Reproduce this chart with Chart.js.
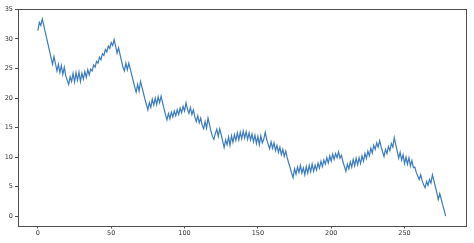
<!DOCTYPE html>
<html>
<head>
<meta charset="utf-8">
<script src="https://cdn.jsdelivr.net/npm/chart.js@4/dist/chart.umd.min.js"></script>
<style>
  html, body { margin: 0; padding: 0; background: #fff; }
  #wrap { width: 474px; height: 243px; position: relative; }
</style>
</head>
<body>
<div id="wrap"><canvas id="c" width="474" height="243"></canvas></div>
<script>
// ---- data ----
const seriesValues = [
  31.4, 32.8, 32.3, 33.4, 32.3, 31.2, 30.1, 29.0, 27.9, 26.8,
  25.7, 27.0, 25.8, 24.6, 25.7, 24.3, 25.5, 24.0, 25.2, 23.8,
  23.0, 22.3, 23.6, 22.8, 24.2, 22.7, 24.3, 23.0, 24.4, 22.8,
  24.2, 23.2, 24.5, 23.5, 24.8, 23.9, 24.9, 24.6, 25.6, 25.2,
  26.2, 25.9, 26.9, 26.5, 27.5, 27.2, 28.2, 27.8, 28.8, 28.4,
  29.4, 28.9, 29.9, 28.8, 27.6, 28.5, 27.4, 26.3, 25.2, 24.6,
  25.9, 24.8, 25.9, 24.9, 23.9, 22.9, 21.9, 21.0, 22.3, 21.2,
  22.8, 21.8, 20.8, 19.8, 18.9, 18.0, 19.2, 18.4, 19.8, 18.8,
  20.0, 18.9, 20.2, 19.2, 20.3, 19.2, 18.2, 17.2, 16.3, 17.4,
  16.5, 17.6, 16.8, 17.8, 17.0, 18.0, 17.2, 18.3, 17.5, 18.6,
  17.8, 19.2, 18.1, 17.4, 18.4, 17.2, 18.0, 16.8, 16.0, 17.0,
  15.8, 16.6, 15.4, 14.8, 16.0, 14.9, 16.6, 15.5, 14.4, 13.5,
  13.0, 14.0, 14.7, 13.5, 14.8, 13.8, 12.7, 11.6, 12.9, 12.1,
  13.4, 12.0, 13.6, 12.5, 13.8, 12.8, 14.1, 12.9, 14.2, 13.1,
  14.4, 13.2, 14.3, 13.0, 14.1, 12.9, 13.9, 12.6, 13.7, 12.3,
  13.5, 12.1, 13.6, 12.4, 13.0, 14.2, 13.0, 12.2, 11.4, 12.6,
  11.5, 12.4, 11.1, 12.0, 10.8, 11.7, 10.4, 11.3, 10.1, 11.0,
  9.9, 9.0, 8.2, 7.3, 6.5, 8.0, 7.1, 8.3, 7.4, 8.6,
  7.3, 8.2, 7.0, 8.4, 7.3, 8.6, 7.5, 8.8, 7.6, 8.6,
  7.8, 9.0, 8.1, 9.3, 8.4, 9.5, 8.8, 9.9, 9.0, 10.2,
  9.3, 10.5, 9.6, 10.6, 9.9, 10.9, 9.8, 10.3, 9.2, 8.4,
  7.6, 8.8, 8.0, 9.2, 8.3, 9.6, 8.5, 9.8, 8.7, 9.9,
  8.9, 10.2, 9.3, 10.6, 9.8, 11.0, 10.2, 11.5, 10.7, 12.0,
  11.3, 12.4, 11.7, 12.8, 11.8, 10.9, 10.1, 11.3, 10.6, 11.8,
  11.1, 12.3, 11.7, 13.3, 12.1, 11.0, 9.8, 10.8, 9.5, 10.4,
  8.9, 10.0, 8.8, 9.9, 8.5, 9.4, 8.2, 8.3, 7.4, 6.8,
  6.2, 7.0, 6.0, 5.3, 4.8, 5.9, 5.2, 6.2, 5.6, 7.0,
  6.0, 5.0, 4.0, 2.8, 3.8, 2.9, 1.9, 1.0, 0.0
];
const categories = seriesValues.map((_, i) => i);   // x positions 0..N-1
const xTickLabels = [0, 50, 100, 150, 200, 250];
const yTickLabels = [0, 5, 10, 15, 20, 25, 30, 35];

// ---- chart ----
const points = categories.map((x, i) => ({ x: x, y: seriesValues[i] }));
const xMinD = Math.min(...categories), xMaxD = Math.max(...categories);
const yMinD = Math.min(...seriesValues), yMaxD = Math.max(...seriesValues);
const xm = (xMaxD - xMinD) * 0.05, ym = (yMaxD - yMinD) * 0.05;

const FONT = { family: 'DejaVu Sans', size: 6.5 };
const AXIS_COLOR = '#4d4d4d';

const frame = {
  id: 'frame',
  afterDraw(chart) {
    const a = chart.chartArea, ctx = chart.ctx;
    ctx.save();
    ctx.strokeStyle = AXIS_COLOR;
    ctx.lineWidth = 1;
    ctx.strokeRect(Math.round(a.left) + 0.5, Math.round(a.top) + 0.5,
                   Math.round(a.right - a.left) - 1, Math.round(a.bottom - a.top));
    ctx.restore();
  }
};

new Chart(document.getElementById('c'), {
  type: 'line',
  data: {
    datasets: [{
      data: points,
      borderColor: '#3b7bbf',
      borderWidth: 1.2,
      pointRadius: 0,
      tension: 0,
      fill: false
    }]
  },
  options: {
    responsive: false,
    animation: false,
    devicePixelRatio: 1,
    layout: { padding: { top: 9, right: 8, left: 0, bottom: 0 } },
    plugins: { legend: { display: false }, tooltip: { enabled: false } },
    scales: {
      x: {
        type: 'linear',
        min: xMinD - xm,
        max: xMaxD + xm,
        afterBuildTicks: s => { s.ticks = xTickLabels.map(v => ({ value: v })); },
        afterFit: s => { s.height = 17; },
        ticks: { color: '#333', font: FONT, padding: 1, maxRotation: 0, autoSkip: false },
        grid: { drawOnChartArea: false, tickLength: 2.5, color: AXIS_COLOR },
        border: { display: false }
      },
      y: {
        type: 'linear',
        min: yMinD - ym,
        max: yMaxD + ym,
        afterBuildTicks: s => { s.ticks = yTickLabels.map(v => ({ value: v })); },
        afterFit: s => { s.width = 17.5; },
        ticks: { color: '#333', font: FONT, padding: 2, autoSkip: false },
        grid: { drawOnChartArea: false, tickLength: 2.5, color: AXIS_COLOR },
        border: { display: false }
      }
    }
  },
  plugins: [frame]
});
</script>
</body>
</html>
